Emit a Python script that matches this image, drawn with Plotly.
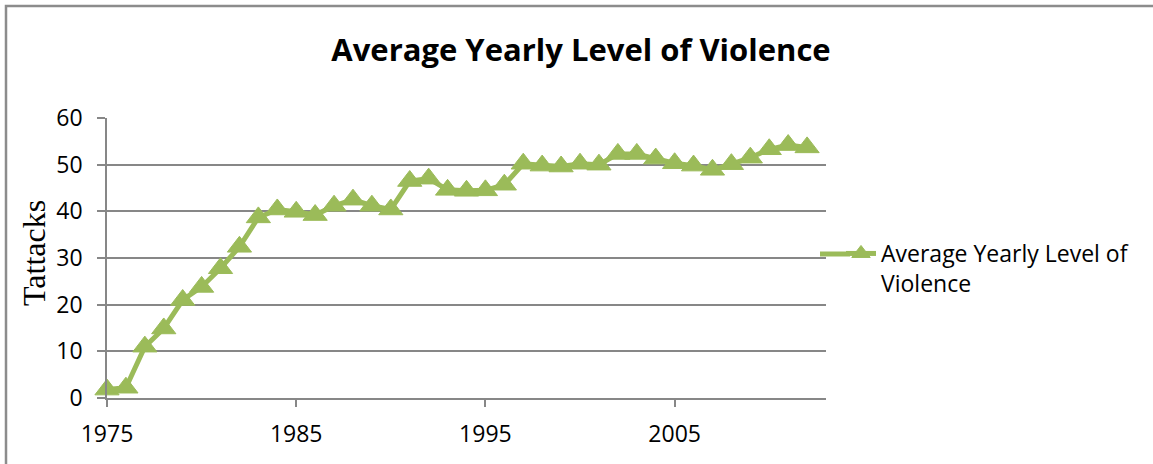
import plotly.graph_objects as go

years = list(range(1975, 2013))
values = [1.8, 2.2, 11.0, 14.9, 21.0, 23.8, 27.8, 32.4, 38.7, 40.4,
          39.9, 39.2, 41.2, 42.5, 41.2, 40.4, 46.5, 47.0, 44.6, 44.4,
          44.5, 45.7, 50.2, 49.8, 49.6, 50.2, 50.0, 52.3, 52.3, 51.3,
          50.3, 49.8, 48.9, 50.1, 51.5, 53.3, 54.2, 53.7]
x_ticks = [1975, 1985, 1995, 2005]
y_ticks = [0, 10, 20, 30, 40, 50, 60]
series_name = "Average Yearly Level of<br>Violence"
title_text = "Average Yearly Level of Violence"
y_title = "Tattacks"

GREEN = "#9BBB59"
GRID = "#878787"
FONT = "Open Sans"

W, H = 1153, 464
L, R, T, B = 107, 1153 - 826, 118, 464 - 398
pw, ph = W - L - R, H - T - B


def px_to_paper_x(p):
    return (p - L) / pw


def px_to_paper_y(p):
    return (H - B - p) / ph


fig = go.Figure()
fig.add_trace(go.Scatter(
    x=years, y=values, mode="lines+markers", name=series_name,
    line=dict(color=GREEN, width=5),
    marker=dict(symbol="triangle-up", size=21, color=GREEN, line=dict(color=GREEN, width=1)),
    cliponaxis=False,
))

fig.update_layout(
    width=W, height=H,
    margin=dict(l=L, r=R, t=T, b=B),
    paper_bgcolor="white", plot_bgcolor="white",
    font=dict(family=FONT, size=23, color="black"),
    title=dict(text="<b>" + title_text + "</b>", x=581 / W, xanchor="center",
               xref="container", yref="container", y=1 - 50 / H, yanchor="middle",
               font=dict(family=FONT, size=31, color="black")),
    showlegend=True,
    legend=dict(x=px_to_paper_x(841), xanchor="left", y=px_to_paper_y(232), yanchor="top",
                valign="top", font=dict(family=FONT, size=23, color="black"),
                bgcolor="rgba(0,0,0,0)", itemwidth=30, tracegroupgap=0),
    xaxis=dict(range=[1975, 2013], tickvals=x_ticks, ticktext=[str(v) for v in x_ticks],
               showgrid=False, zeroline=False, showline=True, linecolor=GRID, linewidth=1.5,
               ticks="outside", ticklen=7, tickcolor=GRID, tickwidth=1.5,
               ticklabelstandoff=8, tickfont=dict(size=23)),
    yaxis=dict(range=[0, 60], tickvals=y_ticks, showgrid=True, gridcolor=GRID, gridwidth=1.5,
               zeroline=False, showline=True, linecolor=GRID, linewidth=1.5,
               ticks="outside", ticklen=8, tickcolor=GRID, tickwidth=1.5,
               ticklabelstandoff=10, tickfont=dict(size=23)),
    shapes=[
        dict(type="rect", xref="paper", yref="paper",
             x0=px_to_paper_x(6), x1=px_to_paper_x(1200),
             y0=px_to_paper_y(520), y1=px_to_paper_y(6),
             line=dict(color="#8C8C8C", width=2.5), fillcolor="rgba(0,0,0,0)", layer="below"),
        dict(type="line", xref="paper", yref="paper",
             x0=px_to_paper_x(820), x1=px_to_paper_x(850),
             y0=px_to_paper_y(254), y1=px_to_paper_y(254),
             line=dict(color=GREEN, width=5)),
    ],
    annotations=[dict(text=y_title, textangle=-90, xref="paper", yref="paper",
                      x=px_to_paper_x(34), y=px_to_paper_y(253), xanchor="center", yanchor="middle",
                      showarrow=False, font=dict(family="Liberation Serif", size=32, color="black"))],
)

fig.write_html("out.html", config={"displayModeBar": False},
               post_script="document.body.style.margin='0';")
